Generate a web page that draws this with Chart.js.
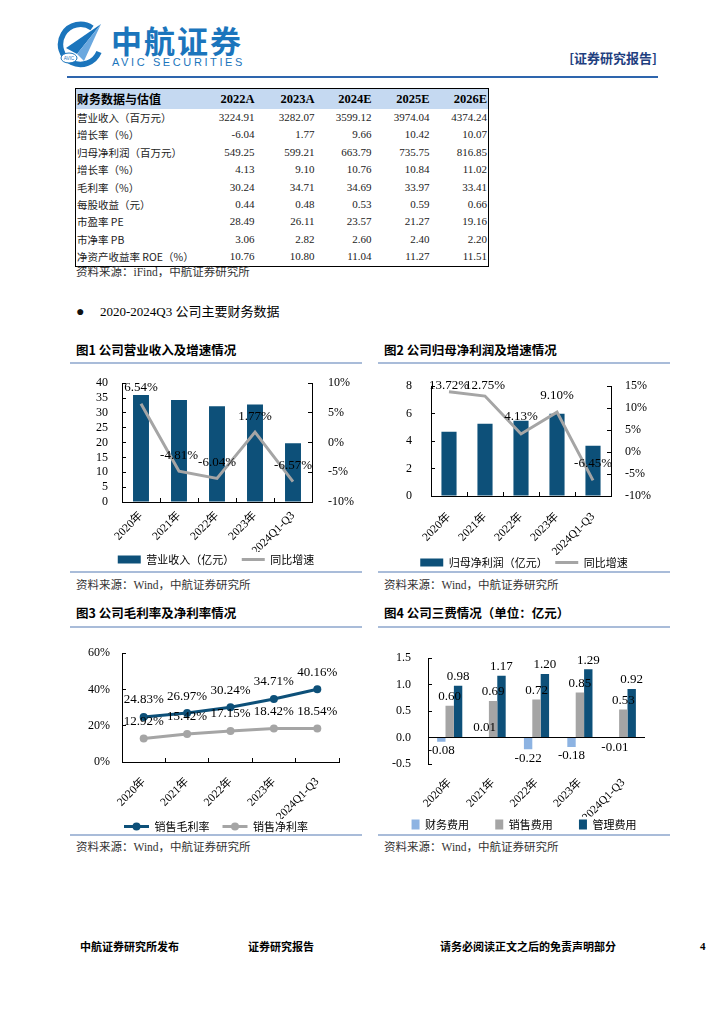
<!DOCTYPE html>
<html>
<head>
<meta charset="utf-8">
<script src="https://cdn.jsdelivr.net/npm/chart.js@4.4.0/dist/chart.umd.min.js"></script>
<style>
html, body { margin: 0; padding: 0; background: #fff; }
body { width: 724px; height: 1024px; position: relative; overflow: hidden;
       font-family: "Liberation Serif", "Noto Sans CJK SC", serif; color: #111; }
.t { position: absolute; white-space: nowrap; line-height: 16px; }
.ttl { font-weight: bold; font-size: 12.5px; font-family: "Noto Sans CJK SC", sans-serif; color: #000; }
.src { font-size: 11.5px; color: #333; }
.foot { font-weight: bold; font-size: 11px; font-family: "Noto Sans CJK SC", sans-serif; color: #000; }
.sep { position: absolute; height: 2px; background: #a9bcd9; }
canvas { position: absolute; }
#fin { position: absolute; left: 75px; top: 88px; width: 413px; border-collapse: collapse;
       border: 1px solid #000; table-layout: fixed; font-size: 11px; color: #222; }
#fin td { padding: 0 1px; height: 17.4px; line-height: 17.4px; text-align: right; white-space: nowrap; }
#fin td:first-child { text-align: left; font-family: "Noto Sans CJK SC", sans-serif; font-size: 10.5px; }
#fin tr.h td { height: 20px; line-height: 20px; background: #c5d9f1; font-weight: bold; font-size: 12.5px; color: #000; }
#fin tr.h td:first-child { font-size: 12px; }
</style>
</head>
<body>

<svg style="position:absolute;left:55px;top:21px" width="48" height="48" viewBox="0 0 48 48">
  <path d="M37 7 A20 20 0 1 0 44 31" stroke="#1b75bc" stroke-width="5.5" fill="none"/>
  <polygon points="11,27 46,3 22,33" fill="#1b75bc"/>
  <polygon points="22,33 46,3 29,40" fill="#6aa8df"/>
  <ellipse cx="14" cy="37" rx="8" ry="5" fill="#fff" stroke="#1b75bc" stroke-width="1"/>
  <text x="14" y="38.8" font-size="4.6" font-family="Liberation Sans" fill="#1b75bc" text-anchor="middle">AVIC</text>
</svg>
<div class="t" style="left:111px;top:24px;font-weight:bold;font-size:31px;font-family:'Noto Sans CJK SC';line-height:32px;letter-spacing:2px;color:#1b75bc;">中航证券</div>
<div class="t" style="left:112px;top:56px;font-size:11px;font-family:'Liberation Sans';line-height:13px;letter-spacing:2.6px;color:#1b75bc;">AVIC SECURITIES</div>
<div class="t" style="right:67px;top:50px;font-weight:bold;font-size:13px;font-family:'Noto Sans CJK SC';color:#1f3f7f;">[证券研究报告]</div>
<div style="position:absolute;left:67px;top:76px;width:591px;height:2px;background:#2e65ad;"></div>

<table id="fin">
  <colgroup><col style="width:122px"><col style="width:58px"><col style="width:60px"><col style="width:57px"><col style="width:58px"><col style="width:58px"></colgroup>
  <tbody id="finBody"></tbody>
</table>
<div class="t src" style="left:76px;top:264px;">资料来源：iFind，中航证券研究所</div>

<div class="t" style="left:76px;top:304px;font-size:14px;">●</div>
<div class="t" style="left:100px;top:304px;font-size:13px;color:#000;">2020-2024Q3 公司主要财务数据</div>

<div class="t ttl" style="left:76px;top:342px;">图1 公司营业收入及增速情况</div>
<div class="sep" style="left:70px;top:362px;width:292px;"></div>
<div class="sep" style="left:70px;top:571px;width:292px;"></div>
<div class="t src" style="left:76px;top:577px;">资料来源：Wind，中航证券研究所</div>

<div class="t ttl" style="left:384px;top:342px;">图2 公司归母净利润及增速情况</div>
<div class="sep" style="left:378px;top:362px;width:292px;"></div>
<div class="sep" style="left:378px;top:571px;width:292px;"></div>
<div class="t src" style="left:384px;top:577px;">资料来源：Wind，中航证券研究所</div>

<div class="t ttl" style="left:76px;top:605px;">图3 公司毛利率及净利率情况</div>
<div class="sep" style="left:70px;top:626px;width:292px;"></div>
<div class="sep" style="left:70px;top:834px;width:292px;"></div>
<div class="t src" style="left:76px;top:839px;">资料来源：Wind，中航证券研究所</div>

<div class="t ttl" style="left:384px;top:605px;">图4 公司三费情况（单位：亿元）</div>
<div class="sep" style="left:378px;top:626px;width:292px;"></div>
<div class="sep" style="left:378px;top:834px;width:292px;"></div>
<div class="t src" style="left:384px;top:839px;">资料来源：Wind，中航证券研究所</div>

<canvas id="c1" width="292" height="219" style="left:70px;top:356px;"></canvas>
<canvas id="c2" width="292" height="222" style="left:378px;top:356px;"></canvas>
<canvas id="c3" width="292" height="212" style="left:70px;top:630px;"></canvas>
<canvas id="c4" width="292" height="210" style="left:378px;top:630px;"></canvas>

<div class="t foot" style="left:80px;top:938px;">中航证券研究所发布</div>
<div class="t foot" style="left:248px;top:938px;">证券研究报告</div>
<div class="t foot" style="left:440px;top:938px;">请务必阅读正文之后的免责声明部分</div>
<div class="t foot" style="left:700px;top:938px;font-family:'Liberation Serif';">4</div>

<script>
// 表格数据
const tableHead = ['财务数据与估值', '2022A', '2023A', '2024E', '2025E', '2026E'];
const tableRows = [
  ['营业收入（百万元）', '3224.91', '3282.07', '3599.12', '3974.04', '4374.24'],
  ['增长率（%）', '-6.04', '1.77', '9.66', '10.42', '10.07'],
  ['归母净利润（百万元）', '549.25', '599.21', '663.79', '735.75', '816.85'],
  ['增长率（%）', '4.13', '9.10', '10.76', '10.84', '11.02'],
  ['毛利率（%）', '30.24', '34.71', '34.69', '33.97', '33.41'],
  ['每股收益（元）', '0.44', '0.48', '0.53', '0.59', '0.66'],
  ['市盈率 PE', '28.49', '26.11', '23.57', '21.27', '19.16'],
  ['市净率 PB', '3.06', '2.82', '2.60', '2.40', '2.20'],
  ['净资产收益率 ROE（%）', '10.76', '10.80', '11.04', '11.27', '11.51']
];

// 图表数据
const years = ['2020年', '2021年', '2022年', '2023年', '2024Q1-Q3'];
const revenue = [36.06, 34.32, 32.25, 32.82, 19.80];
const revenueGrowth = [6.54, -4.81, -6.04, 1.77, -6.57];
const netProfit = [4.68, 5.27, 5.49, 5.99, 3.67];
const netProfitGrowth = [13.72, 12.75, 4.13, 9.10, -6.45];
const grossMargin = [24.83, 26.97, 30.24, 34.71, 40.16];
const netMargin = [12.92, 15.42, 17.15, 18.42, 18.54];
const financeFee = [-0.08, 0.01, -0.22, -0.18, -0.01];
const salesFee = [0.60, 0.69, 0.72, 0.85, 0.53];
const adminFee = [0.98, 1.17, 1.20, 1.29, 0.92];

const body = document.getElementById('finBody');
let html = '<tr class="h">' + tableHead.map(c => '<td>' + c + '</td>').join('') + '</tr>';
tableRows.forEach(r => { html += '<tr>' + r.map(c => '<td>' + c + '</td>').join('') + '</tr>'; });
body.innerHTML = html;

const SERIF = '"Liberation Serif", "Noto Sans CJK SC", serif';
const CJK = '"Noto Sans CJK SC", sans-serif';
const NAVY = '#0d5079';
const GRAY = '#a5a5a5';
const LIGHT = '#8db3e2';

Chart.defaults.color = '#000';
Chart.defaults.animation = false;

// 数据标签
const valueLabels = {
  id: 'valueLabels',
  afterDatasetsDraw(chart, args, opts) {
    const ctx = chart.ctx;
    ctx.save();
    ctx.font = '13px ' + SERIF;
    ctx.fillStyle = '#000';
    ctx.textAlign = 'center';
    ctx.textBaseline = 'middle';
    opts.sets.forEach(di => {
      const meta = chart.getDatasetMeta(di);
      const data = chart.data.datasets[di].data;
      meta.data.forEach((el, i) => {
        const v = data[i];
        let y;
        if (meta.type === 'bar') {
          y = v >= 0 ? el.y - opts.gap : el.y + opts.gap;
        } else {
          y = Math.max(el.y - opts.gap, chart.chartArea.top - 1);
        }
        ctx.fillText(opts.fmt(v), el.x, y);
      });
    });
    ctx.restore();
  }
};

function yAxis(position, min, max, step, fmt, width, pad, zeroLine) {
  return {
    position, min, max,
    ticks: { stepSize: step, callback: fmt, font: { family: SERIF, size: 12 }, color: '#000', padding: pad, autoSkip: false },
    grid: zeroLine
      ? { drawOnChartArea: true, tickLength: -4, tickColor: '#000',
          color: c => (c.tick && c.tick.value === 0) ? '#000' : 'rgba(0,0,0,0)' }
      : { drawOnChartArea: false, tickLength: -4, color: '#000', tickColor: '#000' },
    border: { color: '#000', width: 1 },
    afterFit: s => { s.width = width; }
  };
}

// 右侧留白用的空轴，让图例按整块面板居中
function spacerAxis(width) {
  return {
    position: 'right', display: true,
    ticks: { display: false }, grid: { display: false, drawTicks: false }, border: { display: false },
    afterFit: s => { s.width = width; }
  };
}

function xAxis(height, pad, showLine) {
  return {
    offset: true,
    ticks: { font: { family: SERIF, size: 11.5 }, color: '#000', minRotation: 45, maxRotation: 45, padding: pad, autoSkip: false },
    grid: showLine
      ? { offset: true, drawOnChartArea: false, tickLength: -4, color: '#000', tickColor: '#000' }
      : { display: false, drawTicks: false },
    border: { display: showLine, color: '#000' },
    afterFit: s => { s.height = height; }
  };
}

// 图例：样式、顺序和间距
function legendOpts(boxW, boxH, styles, gap, reverse) {
  return {
    position: 'bottom',
    labels: {
      font: { family: CJK, size: 11 }, color: '#000', padding: 2,
      boxWidth: boxW, boxHeight: boxH,
      usePointStyle: !!styles, pointStyleWidth: styles ? boxW : undefined,
      generateLabels: chart => {
        const items = Chart.defaults.plugins.legend.labels.generateLabels(chart);
        if (reverse) items.reverse();
        items.forEach((it, k) => {
          if (styles) {
            const ds = chart.data.datasets[it.datasetIndex];
            it.pointStyle = styles[it.datasetIndex];
            if (it.pointStyle === 'line') { it.lineWidth = ds.borderWidth; it.strokeStyle = ds.borderColor; }
            else { it.lineWidth = 0; }
          }
          if (k < items.length - 1) it.text += gap;
        });
        return items;
      }
    }
  };
}

// 图1
new Chart(document.getElementById('c1'), {
  data: {
    labels: years,
    datasets: [
      { type: 'bar', label: '营业收入（亿元）', data: revenue, yAxisID: 'y', backgroundColor: NAVY,
        borderWidth: 0, barPercentage: 0.42, categoryPercentage: 1, order: 1 },
      { type: 'line', label: '同比增速', data: revenueGrowth, yAxisID: 'y1', borderColor: GRAY,
        backgroundColor: GRAY, borderWidth: 3, pointRadius: 0, tension: 0, order: 0 }
    ]
  },
  options: {
    responsive: false,
    layout: { padding: { top: 22, left: 0, right: 0, bottom: 0 } },
    scales: {
      x: xAxis(50, 11, true),
      y: yAxis('left', 0, 40, 5, v => v, 52, 18),
      y1: yAxis('right', -10, 10, 5, v => v + '%', 50, 20)
    },
    plugins: {
      legend: legendOpts(23, 8, ['rect', 'line'], '\u3000', true),
      tooltip: { enabled: false },
      valueLabels: { sets: [1], gap: 16, fmt: v => v.toFixed(2) + '%' }
    }
  },
  plugins: [valueLabels]
});

// 图2
new Chart(document.getElementById('c2'), {
  data: {
    labels: years,
    datasets: [
      { type: 'bar', label: '归母净利润（亿元）', data: netProfit, yAxisID: 'y', backgroundColor: NAVY,
        borderWidth: 0, barPercentage: 0.42, categoryPercentage: 1, order: 1 },
      { type: 'line', label: '同比增速', data: netProfitGrowth, yAxisID: 'y1', borderColor: GRAY,
        backgroundColor: GRAY, borderWidth: 3, pointRadius: 0, tension: 0, order: 0 }
    ]
  },
  options: {
    responsive: false,
    layout: { padding: { top: 22, left: 0, right: 0, bottom: 0 } },
    scales: {
      x: xAxis(59, 18, true),
      y: yAxis('left', 0, 8, 2, v => v, 53, 23),
      y1: yAxis('right', -10, 15, 5, v => v + '%', 59, 18)
    },
    plugins: {
      legend: legendOpts(23, 8, ['rect', 'line'], '\u3000', true),
      tooltip: { enabled: false },
      valueLabels: { sets: [1], gap: 17, fmt: v => v.toFixed(2) + '%' }
    }
  },
  plugins: [valueLabels]
});

// 图3
const legendDots = {
  id: 'legendDots',
  afterDraw(chart) {
    const lg = chart.legend;
    if (!lg || !lg.legendHitBoxes) return;
    const ctx = chart.ctx;
    ctx.save();
    lg.legendHitBoxes.forEach((hb, i) => {
      ctx.fillStyle = lg.legendItems[i].strokeStyle;
      ctx.beginPath();
      ctx.arc(hb.left + 12.5, hb.top + hb.height / 2, 4, 0, Math.PI * 2);
      ctx.fill();
    });
    ctx.restore();
  }
};
new Chart(document.getElementById('c3'), {
  type: 'line',
  data: {
    labels: years,
    datasets: [
      { label: '销售毛利率', data: grossMargin, borderColor: NAVY, backgroundColor: NAVY, borderWidth: 3,
        pointRadius: 4, pointBorderWidth: 0, pointBackgroundColor: NAVY, tension: 0 },
      { label: '销售净利率', data: netMargin, borderColor: GRAY, backgroundColor: GRAY, borderWidth: 3,
        pointRadius: 4, pointBorderWidth: 0, pointBackgroundColor: GRAY, tension: 0 }
    ]
  },
  options: {
    responsive: false,
    layout: { padding: { top: 13, left: 0, right: 0, bottom: 0 } },
    scales: {
      x: xAxis(57, 17, true),
      y: yAxis('left', 0, 60, 20, v => v + '%', 52, 16),
      pad: spacerAxis(23)
    },
    plugins: {
      legend: legendOpts(25, 8, ['line', 'line'], '\u3000', false),
      tooltip: { enabled: false },
      valueLabels: { sets: [0, 1], gap: 17, fmt: v => v.toFixed(2) + '%' }
    }
  },
  plugins: [valueLabels, legendDots]
});

// 图4
new Chart(document.getElementById('c4'), {
  type: 'bar',
  data: {
    labels: years,
    datasets: [
      { label: '财务费用', data: financeFee, backgroundColor: LIGHT, borderWidth: 0 },
      { label: '销售费用', data: salesFee, backgroundColor: GRAY, borderWidth: 0 },
      { label: '管理费用', data: adminFee, backgroundColor: NAVY, borderWidth: 0 }
    ]
  },
  options: {
    responsive: false,
    datasets: { bar: { barPercentage: 1, categoryPercentage: 0.58 } },
    layout: { padding: { top: 14, left: 0, right: 0, bottom: 0 } },
    scales: {
      x: xAxis(53, 12, false),
      y: yAxis('left', -0.5, 1.5, 0.5, v => Number(v).toFixed(1), 50, 21, true),
      pad: spacerAxis(25)
    },
    plugins: {
      legend: legendOpts(8, 10, null, '\u3000\u3000\u2009', false),
      tooltip: { enabled: false },
      valueLabels: { sets: [0, 1, 2], gap: 9, fmt: v => v.toFixed(2) }
    }
  },
  plugins: [valueLabels]
});
</script>
</body>
</html>
